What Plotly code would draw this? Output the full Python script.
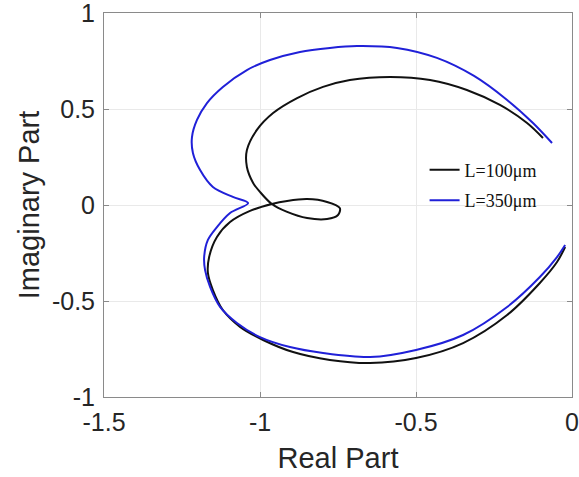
import plotly.graph_objects as go

# L = 100 um (black)
re_100 = [-0.022, -0.048, -0.103, -0.208, -0.349, -0.500, -0.647, -0.776, -0.894, -0.990,
          -1.064, -1.119, -1.151, -1.167, -1.163, -1.138, -1.096, -1.032, -0.962, -0.913,
          -0.849, -0.785, -0.744, -0.750, -0.785, -0.849, -0.913, -0.962, -1.000, -1.022,
          -1.042, -1.042, -1.010, -0.958, -0.881, -0.798, -0.712, -0.583, -0.455, -0.337,
          -0.231, -0.144, -0.093]
im_100 = [-0.219, -0.297, -0.406, -0.573, -0.719, -0.797, -0.823, -0.807, -0.766, -0.703,
          -0.635, -0.547, -0.443, -0.354, -0.271, -0.167, -0.089, -0.031, 0.005, 0.021,
          0.031, 0.016, -0.016, -0.052, -0.073, -0.068, -0.036, 0.005, 0.068, 0.115,
          0.198, 0.286, 0.391, 0.479, 0.557, 0.615, 0.651, 0.667, 0.651, 0.599,
          0.521, 0.427, 0.349]

# L = 350 um (blue)
re_350 = [-0.022, -0.048, -0.103, -0.208, -0.349, -0.500, -0.647, -0.798, -0.904, -1.000,
          -1.074, -1.128, -1.160, -1.176, -1.179, -1.167, -1.138, -1.096, -1.038, -1.087,
          -1.151, -1.192, -1.215, -1.218, -1.202, -1.170, -1.119, -1.042, -0.968, -0.872,
          -0.776, -0.689, -0.561, -0.433, -0.314, -0.208, -0.125, -0.064]
im_350 = [-0.208, -0.271, -0.375, -0.531, -0.677, -0.755, -0.792, -0.771, -0.740, -0.688,
          -0.615, -0.531, -0.427, -0.339, -0.271, -0.182, -0.115, -0.042, 0.010, 0.042,
          0.094, 0.182, 0.271, 0.354, 0.443, 0.531, 0.615, 0.703, 0.755, 0.797,
          0.818, 0.828, 0.818, 0.766, 0.672, 0.547, 0.427, 0.323]

x_ticks = [-1.5, -1, -0.5, 0]
y_ticks = [-1, -0.5, 0, 0.5, 1]
names = ["L=100\u03bcm", "L=350\u03bcm"]
colors = ["#111111", "#2020d8"]

fig = go.Figure()
fig.add_trace(go.Scatter(x=re_100, y=im_100, mode="lines", name=names[0], legendgroup="a",
                         line=dict(color=colors[0], width=2, shape="spline", smoothing=0.9)))
fig.add_trace(go.Scatter(x=re_350, y=im_350, mode="lines", name=names[1], legendgroup="b",
                         line=dict(color=colors[1], width=2, shape="spline", smoothing=0.9)))

axis_common = dict(
    showgrid=True, gridcolor="#e9e9e9", gridwidth=1,
    showline=True, linecolor="#8a8a8a", linewidth=1, mirror="ticks",
    ticks="inside", ticklen=5, tickcolor="#8a8a8a",
    zeroline=False, ticklabeloverflow="allow", automargin=False,
    tickfont=dict(family="Liberation Sans, Arial, sans-serif", size=25, color="#262626"),
)

fig.update_layout(
    width=579, height=477,
    margin=dict(l=104, r=7, t=13, b=80, autoexpand=False),
    paper_bgcolor="white", plot_bgcolor="white",
    xaxis=dict(range=[-1.5, 0], tickvals=x_ticks, ticktext=["-1.5", "-1", "-0.5", "0"],
               ticklabelstandoff=3,
               title=dict(text="Real Part", standoff=12,
                          font=dict(family="Liberation Sans, Arial, sans-serif", size=29, color="#262626")),
               **axis_common),
    yaxis=dict(range=[-1, 1], tickvals=y_ticks, ticktext=["-1", "-0.5", "0", "0.5", "1"],
               ticklabelstandoff=3,
               title=dict(text="Imaginary Part", standoff=3,
                          font=dict(family="Liberation Sans, Arial, sans-serif", size=29, color="#262626")),
               **axis_common),
    legend=dict(x=0.685, y=0.552, xanchor="left", yanchor="middle",
                bgcolor="rgba(0,0,0,0)", borderwidth=0,
                tracegroupgap=4,
                font=dict(family="Liberation Serif, Times New Roman, serif", size=18, color="#111111")),
    showlegend=True,
)

fig.write_html("out.html")
